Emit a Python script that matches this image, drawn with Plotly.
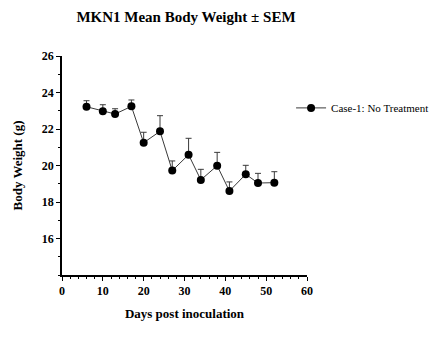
import plotly.graph_objects as go

# Days post inoculation and mean body weight (g) with upper SEM
days = [6, 10, 13, 17, 20, 24, 27, 31, 34, 38, 41, 45, 48, 52]
weight = [23.22, 22.97, 22.82, 23.24, 21.25, 21.87, 19.72, 20.59, 19.21, 19.99, 18.60, 19.52, 19.04, 19.06]
sem = [0.33, 0.36, 0.29, 0.35, 0.57, 0.86, 0.53, 0.90, 0.58, 0.73, 0.50, 0.49, 0.53, 0.60]

series_name = "Case-1: No Treatment"
y_ticks = [16, 18, 20, 22, 24, 26]
x_ticks = [0, 10, 20, 30, 40, 50, 60]

serif = "Liberation Serif"

fig = go.Figure()
fig.add_trace(go.Scatter(
    x=days,
    y=weight,
    mode="lines+markers",
    name=series_name,
    line=dict(color="#3a3a3a", width=1),
    marker=dict(color="black", size=8, symbol="circle"),
    error_y=dict(
        type="data",
        symmetric=False,
        array=sem,
        arrayminus=[0] * len(sem),
        color="#3a3a3a",
        thickness=1,
        width=3,
    ),
))

fig.update_layout(
    width=435,
    height=343,
    margin=dict(l=62, r=128, t=56, b=68, autoexpand=False),
    paper_bgcolor="white",
    plot_bgcolor="white",
    title=dict(
        text="<b>MKN1 Mean Body Weight ± SEM</b>",
        x=186 / 435,
        xanchor="center",
        y=1 - 17 / 343,
        yanchor="middle",
        font=dict(family=serif, size=15, color="black"),
    ),
    font=dict(family=serif, color="black"),
    showlegend=True,
    legend=dict(
        x=0.935,
        xanchor="left",
        y=0.763,
        yanchor="middle",
        font=dict(family=serif, size=11, color="black"),
        bgcolor="rgba(0,0,0,0)",
        itemwidth=30,
    ),
)

fig.update_xaxes(
    range=[0, 60],
    tickvals=x_ticks,
    ticktext=[f"<b>{v}</b>" for v in x_ticks],
    ticks="outside",
    ticklen=4,
    tickwidth=1,
    tickcolor="black",
    minor=dict(dtick=2, ticks="outside", ticklen=2, tickcolor="black"),
    showline=True,
    linecolor="black",
    linewidth=1.5,
    showgrid=False,
    zeroline=False,
    tickfont=dict(family=serif, size=12, color="black"),
    title=dict(text="<b>Days post inoculation</b>", font=dict(family=serif, size=13, color="black"), standoff=12),
)

fig.update_yaxes(
    range=[14, 26],
    tickvals=y_ticks,
    ticktext=[f"<b>{v}</b>" for v in y_ticks],
    ticks="outside",
    ticklen=4,
    tickwidth=1,
    tickcolor="black",
    minor=dict(dtick=1, tick0=14, ticks="outside", ticklen=2, tickcolor="black"),
    showline=True,
    linecolor="black",
    linewidth=1.5,
    showgrid=False,
    zeroline=False,
    tickfont=dict(family=serif, size=12, color="black"),
    title=dict(text="<b>Body Weight (g)</b>", font=dict(family=serif, size=13, color="black"), standoff=16),
)

fig.write_html("out.html")
